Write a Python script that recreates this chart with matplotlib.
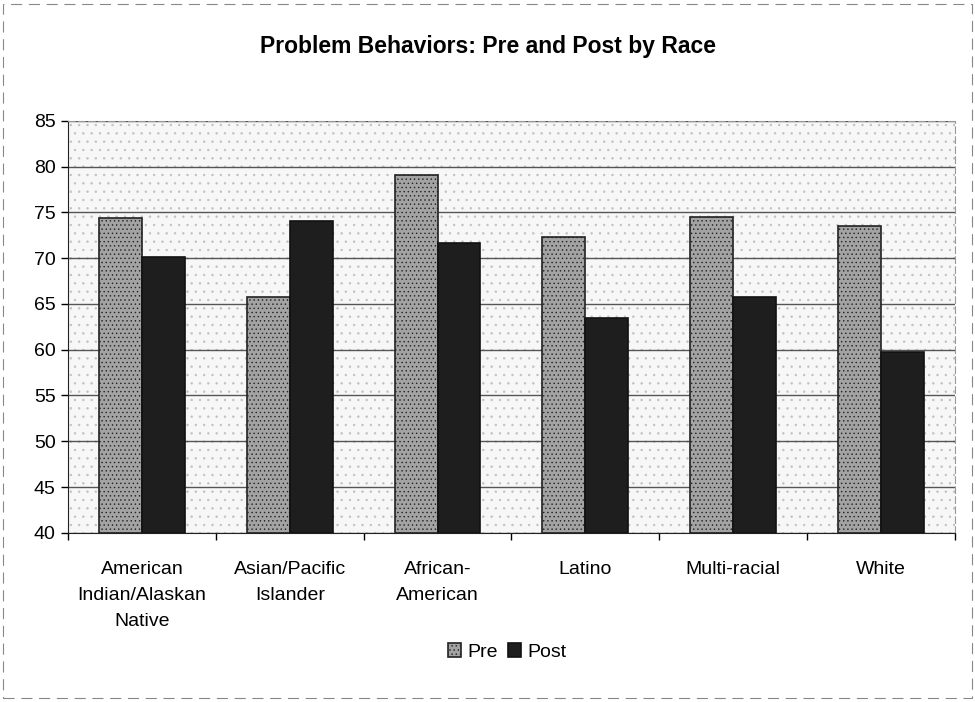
import matplotlib
matplotlib.use("Agg")
import matplotlib.pyplot as plt
import numpy as np
from matplotlib.patches import Rectangle

plt.rcParams['font.family'] = ['Liberation Sans', 'DejaVu Sans']
plt.rcParams['hatch.linewidth'] = 0.5

categories = ["American\nIndian/Alaskan\nNative", "Asian/Pacific\nIslander", "African-\nAmerican",
              "Latino", "Multi-racial", "White"]
pre_values = [74.4, 65.8, 79.1, 72.3, 74.5, 73.5]
post_values = [70.1, 74.0, 71.6, 63.5, 65.7, 59.7]
y_ticks = [40, 45, 50, 55, 60, 65, 70, 75, 80, 85]

fig = plt.figure(figsize=(9.75, 7.02), dpi=100)
ax = fig.add_axes([0.07, 0.241, 0.909, 0.587])

# stippled plot area
ax.set_facecolor('#f7f7f7')
bg = Rectangle((0, 0), 1, 1, transform=ax.transAxes, facecolor='none',
               edgecolor='#c0c0c0', hatch='..', linewidth=0, zorder=0)
ax.add_patch(bg)

x = np.arange(len(categories))
w = 0.29
ax.bar(x - w / 2, [v - 40 for v in pre_values], w, bottom=40, color='#a3a3a3',
       edgecolor='#222222', linewidth=1.2, hatch='....', label='Pre', zorder=3)
ax.bar(x + w / 2, [v - 40 for v in post_values], w, bottom=40, color='#1e1e1e',
       edgecolor='#111111', linewidth=1.2, label='Post', zorder=3)

ax.set_ylim(40, 85)
ax.set_xlim(-0.5, len(categories) - 0.5)
ax.set_yticks(y_ticks)
ax.yaxis.grid(True, color='#555555', linewidth=1.0, zorder=1)
ax.set_axisbelow(True)
ax.set_xticks(x)
ax.set_xticklabels(categories, fontsize=14, va='top', linespacing=1.7)
ax.set_xticks(np.arange(len(categories) + 1) - 0.5, minor=True)
ax.tick_params(axis='x', which='major', length=0, pad=20)
ax.tick_params(axis='x', which='minor', length=5, width=1, direction='out')
ax.tick_params(axis='y', labelsize=14, length=5, width=1, direction='out', pad=4)
for side in ['top', 'right']:
    ax.spines[side].set_color('#999999')
    ax.spines[side].set_linestyle((0, (6, 3)))
ax.spines['left'].set_color('#222222')
ax.spines['bottom'].set_color('#222222')

fig.suptitle("Problem Behaviors: Pre and Post by Race", fontsize=16.5,
             fontweight='bold', y=0.95)

fig.legend(loc='center', bbox_to_anchor=(0.52, 0.071), ncol=2, frameon=False,
           fontsize=14, handlelength=0.7, handleheight=0.7, handletextpad=0.3,
           columnspacing=0.5)

# outer chart border
fig.add_artist(Rectangle((0.003, 0.005), 0.994, 0.99, transform=fig.transFigure,
                         fill=False, edgecolor='#888888', linewidth=0.8,
                         linestyle=(0, (10, 6))))

fig.savefig("out.png", dpi=100)
